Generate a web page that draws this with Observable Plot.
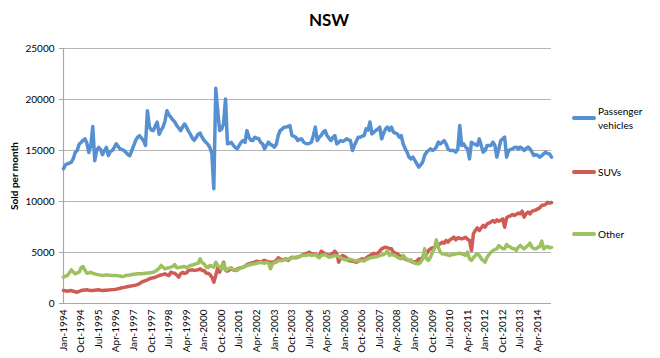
<!DOCTYPE html>
<html><head><meta charset="utf-8">
<script src="https://cdn.jsdelivr.net/npm/d3@7"></script>
<script src="https://cdn.jsdelivr.net/npm/@observablehq/plot@0.6"></script>
<style>
body{margin:0;background:#fff;font-family:Lato,"Open Sans",sans-serif;color:#000;}
#wrap{position:relative;width:660px;height:358px;overflow:hidden;}
#title{position:absolute;left:0;width:658px;top:9px;text-align:center;font-weight:bold;font-size:17px;}
#ylabel{position:absolute;left:14px;top:176px;transform:translate(-50%,-50%) rotate(-90deg);font-weight:bold;font-size:10px;white-space:nowrap;}
.lline{position:absolute;height:3.5px;width:24px;border-radius:2px;}
.ltext{position:absolute;font-size:10px;line-height:14px;}
</style></head>
<body><div id="wrap"><div id="title">NSW</div><div id="ylabel">Sold per month</div></div>
<script>
const title = "NSW";
const yLabel = "Sold per month";
const seriesNames = ["Passenger vehicles", "SUVs", "Other"];
const seriesColors = ["#5690d0", "#cf5b55", "#9dc160"];
const startMonth = "Jan 1994"; // monthly data, Jan 1994 .. Nov 2014 (index 0..250)
const yTicks = [0, 5000, 10000, 15000, 20000, 25000];
const xTickIndex = [0,9,18,27,36,45,54,63,72,81,90,99,108,117,126,135,144,153,162,171,180,189,198,207,216,225,234,243];
const xTickLabels = ["Jan-1994","Oct-1994","Jul-1995","Apr-1996","Jan-1997","Oct-1997","Jul-1998","Apr-1999","Jan-2000","Oct-2000","Jul-2001","Apr-2002","Jan-2003","Oct-2003","Jul-2004","Apr-2005","Jan-2006","Oct-2006","Jul-2007","Apr-2008","Jan-2009","Oct-2009","Jul-2010","Apr-2011","Jan-2012","Oct-2012","Jul-2013","Apr-2014"];

const passenger = [
13200,13600,13700,13750,13850,14200,14800,15000,15600,15800,
16000,16150,15700,14800,15500,17350,14000,15000,15300,15100,
14600,15000,15300,14500,14900,15000,15300,15650,15400,15150,
15100,15000,14800,14600,14500,15000,15500,16000,16300,16450,
16200,15980,15500,18900,17300,17000,16950,17400,17780,16600,
17000,17300,17900,18900,18500,18270,18000,17800,17450,17200,
16950,17300,17600,17300,16900,16600,16200,16000,16300,16600,
16700,16300,16000,15800,15600,15300,14700,11250,21100,18900,
16960,17100,17600,20050,15650,15700,15800,15500,15300,15150,
15500,15800,15980,15800,16950,16300,16000,15980,16300,16200,
16150,15800,15650,15150,15500,15820,15600,15500,15330,15600,
16470,16960,17100,17290,17300,17350,17450,16470,16400,16300,
15980,16100,16140,15820,15700,15650,15700,15820,16470,17290,
15980,16300,16470,16800,16960,16470,16200,15980,16300,16470,
15650,15800,15980,15900,15980,16140,16050,15980,15000,15490,
15900,16310,16310,16400,16470,17120,17000,17800,16630,16800,
16960,17100,17290,16140,16700,17120,17290,16960,17290,16800,
16700,16630,16310,16470,15650,15200,14840,14350,14180,14350,
14020,13700,13370,13600,13860,14510,14840,15000,15160,15000,
15100,15330,15820,15650,15800,15980,15650,15160,15000,15000,
15000,14840,15160,17450,15490,15650,15330,15160,14180,15820,
15650,15600,15490,16140,15490,14840,15000,15490,15490,15500,
15820,15490,14350,15160,15980,16140,16310,14350,15000,15100,
15160,15300,15330,15160,15330,15200,15000,15200,15330,15160,
14840,14510,14600,14510,14350,14500,14670,14840,14700,14670,
14350];

const suvs = [
1270,1240,1210,1240,1270,1200,1150,1110,1180,1270,
1300,1320,1340,1300,1280,1270,1300,1320,1340,1300,
1270,1290,1310,1330,1340,1360,1380,1410,1450,1500,
1540,1580,1620,1670,1700,1730,1760,1800,1860,1950,
2090,2170,2250,2320,2420,2470,2530,2580,2650,2745,
2800,2850,2910,2800,2745,3070,3000,2970,2800,2580,
2900,3070,2950,3000,3240,3270,3300,3240,3270,3300,
3400,3240,3240,3000,2970,2840,2580,2090,2745,3500,
3070,3560,4050,3240,3170,3300,3400,3300,3240,3400,
3450,3500,3560,3630,3820,3880,3950,4000,4050,4150,
4100,4050,4150,4220,4150,4100,4050,4050,4100,4220,
4480,4350,4280,4330,4380,4220,4400,4540,4500,4480,
4550,4610,4710,4800,4870,4950,5030,4800,4850,4870,
4700,4540,5130,5000,4870,4800,4710,4800,4930,5130,
4900,4050,4500,4710,4600,4480,4220,4180,4150,4100,
4050,4150,4300,4380,4280,4450,4610,4710,4800,4930,
4800,4950,5130,5360,5450,5520,5460,5400,5360,5030,
4950,4870,4700,4610,4480,4380,4280,4220,4150,4050,
4100,4150,4380,4280,4540,4700,4870,5200,5360,5450,
5520,5690,5780,5850,6010,5920,6180,6010,6240,6350,
6500,6240,6440,6400,6340,6400,6500,6300,6180,5200,
6830,7160,7420,7160,7400,7650,7480,7810,7880,8000,
8140,7970,8200,8070,8150,8300,7480,8400,8530,8600,
8730,8630,8750,8860,8790,9050,8460,8800,8960,8790,
9050,9100,9180,9280,9380,9610,9650,9710,9930,9840,
9900];

const other = [
2580,2700,2750,3000,3300,3100,2910,3000,3070,3500,
3630,3250,2970,3000,3070,2950,2910,2850,2810,2780,
2750,2760,2810,2780,2760,2745,2750,2745,2720,2700,
2650,2680,2745,2780,2800,2840,2870,2900,2910,2910,
2910,2940,2970,2980,3000,3030,3070,3150,3300,3450,
3730,3550,3400,3450,3500,3560,3630,3820,3500,3530,
3560,3600,3630,3500,3620,3730,3780,3820,3900,3950,
4380,4000,3890,3600,3500,3730,3650,3560,4050,3700,
3560,3400,3950,3240,3350,3450,3500,3300,3270,3240,
3400,3500,3560,3650,3730,3780,3820,3870,3890,3950,
4000,4050,4000,3950,4050,4000,3400,3890,4000,4050,
4220,4200,4220,4260,4280,4330,4380,4480,4500,4540,
4580,4610,4700,4710,4710,4760,4800,4710,4750,4800,
4600,4480,4710,4750,4800,4650,4540,4580,4610,4710,
4650,4610,4480,4380,4300,4280,4380,4330,4280,4200,
4150,4280,4220,4200,4150,4300,4380,4480,4500,4540,
4580,4610,4710,4750,4800,4930,5200,4710,4800,4750,
4710,4540,4450,4380,4710,4480,4300,4220,4280,4050,
3950,3900,3890,4050,4380,5360,4380,4220,4540,5030,
5360,6240,5520,5030,4870,4850,4800,4750,4710,4800,
4800,4870,4900,4930,4870,4800,4710,5030,4380,4220,
4500,4710,4870,4710,4400,4220,4050,4540,4800,5030,
5200,5300,5360,5690,5520,5400,5360,5780,5600,5520,
5400,5360,5200,5520,5690,5500,5360,5550,5690,5920,
5520,5400,5360,5500,5590,6110,5360,5520,5590,5460,
5500];

const seriesValues = [passenger, suvs, other];
const rows = [];
seriesValues.forEach((vals, s) => vals.forEach((v, m) => rows.push({m, v, series: seriesNames[s]})));

const chart = Plot.plot({
  width: 660, height: 358,
  marginLeft: 63, marginRight: 109, marginTop: 48, marginBottom: 55,
  style: {fontFamily: "Lato, 'Open Sans', sans-serif", fontSize: "10px", color: "#000", background: "transparent"},
  x: {domain: [0, 250]},
  y: {domain: [0, 25000]},
  color: {domain: seriesNames, range: seriesColors},
  marks: [
    Plot.gridY(yTicks.filter(d => d > 0), {stroke: "#b5b5b5", strokeOpacity: 1, strokeWidth: 1.2}),
    Plot.ruleY([0], {stroke: "#a8a8a8", strokeWidth: 1.2}),
    Plot.ruleX([0], {stroke: "#a8a8a8", strokeWidth: 1.2}),
    Plot.axisY(yTicks, {tickSize: 4, tickPadding: 5, stroke: "#a8a8a8", label: null, tickFormat: d => String(d)}),
    Plot.axisX(xTickIndex, {tickSize: 0, tickPadding: 6, tickRotate: -90, label: null,
      tickFormat: d => xTickLabels[xTickIndex.indexOf(d)]}),
    Plot.line(rows, {x: "m", y: "v", z: "series", stroke: "series", strokeWidth: 3.5,
      strokeLinejoin: "round", strokeLinecap: "round"})
  ]
});
const wrap = document.getElementById("wrap");
wrap.insertBefore(chart, wrap.firstChild);
chart.style.position = "absolute"; chart.style.left = "0"; chart.style.top = "0";

// legend (to the right of the plot)
const legendY = [118, 172, 234];
const legendLines = [["Passenger", "vehicles"], ["SUVs"], ["Other"]];
seriesNames.forEach((name, i) => {
  const l = document.createElement("div");
  l.className = "lline";
  l.style.left = "572px"; l.style.top = (legendY[i] - 1.75) + "px";
  l.style.background = seriesColors[i];
  wrap.appendChild(l);
  const t = document.createElement("div");
  t.className = "ltext";
  t.style.left = "598px";
  t.style.top = (legendY[i] - 7 * legendLines[i].length) + "px";
  t.innerHTML = legendLines[i].join("<br>");
  wrap.appendChild(t);
});
</script></body></html>
